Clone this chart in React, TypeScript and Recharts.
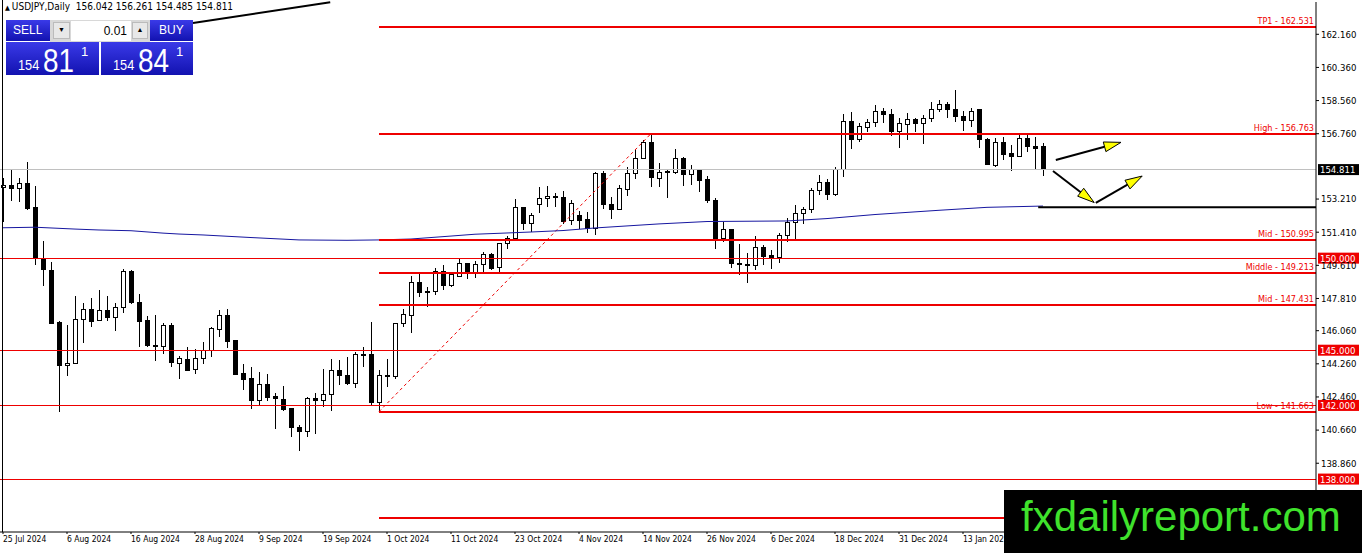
import { Bar, ComposedChart, Line, ReferenceLine, XAxis, YAxis } from "recharts"

const tickLabels = [
  "25 Jul 2024", "6 Aug 2024", "16 Aug 2024", "28 Aug 2024", "9 Sep 2024", "19 Sep 2024",
  "1 Oct 2024", "11 Oct 2024", "23 Oct 2024", "4 Nov 2024", "14 Nov 2024", "26 Nov 2024",
  "6 Dec 2024", "18 Dec 2024", "31 Dec 2024", "13 Jan 2025",
]
const BARS_PER_LABEL = 8

// daily USDJPY candles, one per trading day from 25 Jul 2024
const opens = [
  153.85, 153.97, 153.76, 154.03, 152.76, 149.99, 149.32, 146.52, 144.16, 144.29,
  146.68, 147.22, 146.6, 147.15, 146.79, 147.33, 149.3, 147.6, 146.59, 145.28,
  145.19, 146.32, 144.29, 144.51, 143.96, 144.56, 145.01, 146.15, 146.87, 145.52,
  143.75, 143.44, 142.26, 143.15, 142.47, 142.34, 141.81, 140.81, 140.57, 142.39,
  142.26, 142.61, 143.92, 143.6, 143.2, 144.79, 144.79, 142.17, 143.61, 143.56,
  146.46, 146.91, 148.69, 148.18, 148.18, 149.27, 148.54, 148.99, 149.72, 149.21,
  149.63, 150.21, 149.5, 150.81, 151.08, 152.76, 151.86, 152.93, 153.25, 153.36,
  153.31, 152.03, 152.34, 152.11, 151.6, 154.61, 152.94, 152.65, 153.74, 154.61,
  155.42, 156.27, 154.34, 154.7, 154.64, 155.42, 154.57, 154.74, 154.25, 153.11,
  151.08, 151.53, 149.72, 149.64, 149.59, 150.59, 150.12, 150.05, 151.22, 151.95,
  152.43, 152.65, 153.65, 154.1, 153.47, 154.83, 157.41, 156.46, 157.11, 157.38,
  157.99, 157.81, 156.87, 157.27, 157.54, 157.33, 157.6, 158.05, 158.37, 158.1,
  157.72, 157.47, 158.05, 156.47, 155.06, 156.29, 155.66, 155.51, 156.51, 156.09,
  156.042,
]
const highs = [
  154.34, 154.79, 154.34, 155.21, 153.92, 150.95, 149.77, 146.59, 146.37, 147.96,
  147.58, 147.82, 148.27, 147.96, 147.58, 149.41, 149.36, 148.05, 146.86, 146.91,
  146.49, 146.46, 144.7, 145.16, 145.05, 145.42, 146.28, 147.18, 147.24, 145.55,
  144.23, 144.1, 143.8, 143.69, 142.66, 143.07, 141.84, 140.94, 142.48, 142.69,
  143.96, 144.52, 144.47, 144.65, 144.92, 145.19, 146.55, 143.92, 144.5, 146.49,
  147.22, 149.03, 149.17, 148.42, 149.45, 149.63, 149.27, 149.99, 149.75, 149.85,
  150.35, 150.26, 150.84, 151.2, 153.2, 152.8, 152.44, 153.88, 153.92, 153.55,
  153.66, 153.16, 152.58, 152.52, 154.7, 154.75, 153.34, 153.97, 154.97, 155.91,
  156.42, 156.763, 155.15, 154.79, 155.91, 155.48, 155.06, 154.83, 154.47, 153.25,
  151.98, 151.57, 150.77, 150.26, 151.22, 150.72, 150.44, 151.35, 152.17, 152.89,
  152.8, 153.79, 154.52, 154.28, 154.94, 157.83, 157.96, 157.32, 157.54, 158.32,
  158.14, 158.1, 157.6, 157.87, 157.63, 157.78, 158.47, 158.59, 158.5, 159.13,
  157.99, 158.17, 158.1, 156.51, 156.51, 156.6, 156.15, 156.73, 156.73, 156.6,
  156.261,
]
const lows = [
  151.98, 153.12, 153.03, 152.62, 149.63, 148.5, 146.41, 141.66, 143.61, 144.29,
  145.41, 146.28, 146.59, 146.6, 146.06, 147.04, 147.51, 145.19, 145.19, 144.43,
  144.79, 144.07, 143.44, 143.85, 143.69, 144.23, 144.65, 145.73, 145.13, 143.66,
  142.83, 141.79, 141.97, 142.26, 140.7, 141.71, 140.27, 139.54, 140.3, 140.43,
  141.93, 141.71, 143.11, 143.11, 142.93, 144.11, 142.02, 141.663, 142.98, 143.42,
  146.28, 145.92, 147.87, 147.33, 147.99, 148.27, 148.42, 148.96, 148.85, 148.9,
  149.23, 149.36, 149.14, 150.48, 151.02, 151.53, 151.44, 152.44, 152.76, 152.8,
  151.86, 151.8, 151.57, 151.35, 151.26, 152.65, 152.11, 152.62, 153.38, 154.3,
  155.37, 153.88, 153.85, 153.29, 154.55, 153.92, 153.97, 153.61, 152.98, 150.48,
  150.89, 149.45, 149.09, 148.63, 149.36, 149.63, 149.39, 149.72, 150.89, 151.04,
  151.86, 152.47, 153.43, 153.16, 153.38, 154.43, 155.91, 156.33, 156.87, 157.11,
  157.33, 156.65, 156.0, 156.42, 156.87, 156.2, 157.41, 157.96, 157.6, 157.41,
  156.92, 157.14, 155.97, 155.06, 154.97, 155.33, 154.75, 155.51, 155.78, 154.84,
  154.485,
]
const closes = [
  153.97, 153.76, 154.03, 152.71, 150.02, 149.36, 146.46, 144.16, 144.29, 146.68,
  147.22, 146.55, 147.15, 146.79, 147.33, 149.3, 147.58, 146.55, 145.24, 145.19,
  146.32, 144.32, 144.55, 143.89, 144.56, 144.97, 146.19, 146.87, 145.46, 143.69,
  143.42, 142.26, 143.15, 142.44, 142.35, 141.79, 140.81, 140.57, 142.39, 142.26,
  142.61, 143.89, 143.6, 143.2, 144.74, 144.7, 142.17, 143.61, 143.56, 146.46,
  146.95, 148.69, 148.15, 148.12, 149.27, 148.54, 149.12, 149.72, 149.21, 149.63,
  150.21, 149.45, 150.81, 151.08, 152.76, 151.86, 152.34, 153.25, 153.36, 153.28,
  151.98, 152.98, 152.07, 151.6, 154.61, 152.89, 152.65, 153.76, 154.61, 155.42,
  156.27, 154.39, 154.66, 154.64, 155.42, 154.57, 154.79, 154.21, 153.11, 151.08,
  151.57, 149.72, 149.63, 149.59, 150.59, 150.08, 150.03, 151.22, 151.95, 152.43,
  152.65, 153.65, 154.1, 153.47, 154.83, 157.41, 156.46, 157.14, 157.38, 157.99,
  157.81, 156.87, 157.33, 157.51, 157.33, 157.6, 158.09, 158.37, 158.05, 157.68,
  157.47, 157.99, 156.46, 155.11, 156.29, 155.64, 155.51, 156.51, 156.05, 155.97,
  154.811,
]

// moving average at these bars
const maBars = [0, 4, 9, 12, 16, 20, 22, 25, 31, 37, 43, 47, 51, 56, 59, 62, 66, 70, 74, 78, 82, 88, 98, 103, 109, 117, 123, 130]
const maValues = [
  151.65, 151.68, 151.58, 151.53, 151.49, 151.36, 151.31, 151.26, 151.12, 150.99, 150.97, 150.99, 151.04, 151.2,
  151.3, 151.35, 151.42, 151.5, 151.64, 151.75, 151.86, 151.99, 152.02, 152.15, 152.37, 152.6, 152.76, 152.83,
]

const priceTicks = [162.16, 160.36, 158.56, 156.76, 153.21, 151.41, 149.61, 147.81, 146.06, 144.26, 142.46, 140.66, 138.86]

const levelNames = ["TP1", "High", "Mid", "Middle", "Mid", "Low", ""]
const levelValues = [162.531, 156.763, 150.995, 149.213, 147.431, 141.663, 135.89]
const roundLevels = [150, 145, 142, 138]
const supportLine = 152.77

const SWING_LOW_BAR = 47
const SWING_HIGH_BAR = 81
const ASK_SPREAD = 0.03

const X_MIN = -0.5
const X_MAX = 164.125
const Y_MIN = 135.125
const Y_MAX = 163.914

const FONT = "'DejaVu Sans Condensed', 'Liberation Sans Narrow', 'Liberation Sans', sans-serif"
const RED = "#ee0000"

const chartData = opens.map((open, i) => {
  const m = maBars.indexOf(i)
  return {
    i,
    open,
    high: highs[i],
    low: lows[i],
    close: closes[i],
    range: [lows[i], highs[i]],
    ma: m >= 0 ? maValues[m] : null,
  }
})

function Candle(props: any) {
  const { x, y, width, height, payload } = props
  if (!payload || height == null) return null
  const top = Math.min(y, y + height)
  const h = Math.abs(height)
  const k = h / (payload.high - payload.low)
  const yO = top + (payload.high - payload.open) * k
  const yC = top + (payload.high - payload.close) * k
  const cx = Math.round(x + width / 2) + 0.5
  const bodyTop = Math.min(yO, yC)
  const bodyH = Math.max(Math.abs(yC - yO), 1)
  const bull = payload.close >= payload.open
  return (
    <g shapeRendering="crispEdges">
      <line x1={cx} x2={cx} y1={top} y2={top + h} stroke="#000" />
      <rect x={cx - 2} y={bodyTop} width={4} height={bodyH} fill={bull ? "#fff" : "#000"} stroke="#000" />
    </g>
  )
}

const levelShape =
  (label: string, color: string, width: number, box?: { text: string; bg: string }) => (p: any) => {
    const xr = Math.max(p.x1, p.x2)
    return (
      <g>
        <line x1={p.x1} y1={p.y1} x2={p.x2} y2={p.y2} stroke={color} strokeWidth={width} shapeRendering="crispEdges" />
        {label ? (
          <text x={xr - 2} y={p.y1 - 3} textAnchor="end" fontSize={9} fontFamily={FONT} fill={color}>
            {label}
          </text>
        ) : null}
        {box ? (
          <g>
            <rect x={xr + 2} y={p.y1 - 5.5} width={41} height={11} fill={box.bg} />
            <text x={xr + 4} y={p.y1 + 3.5} fontSize={9.5} fontFamily={FONT} fill="#fff">
              {box.text}
            </text>
          </g>
        ) : null}
      </g>
    )
  }

function Arrow(p: any) {
  const { x1, y1, x2, y2 } = p
  const dx = x2 - x1
  const dy = y2 - y1
  const len = Math.hypot(dx, dy)
  const ux = dx / len
  const uy = dy / len
  const hl = 17
  const hw = 5
  const bx = x2 - ux * hl
  const by = y2 - uy * hl
  const pts = `${x2},${y2} ${bx - uy * hw},${by + ux * hw} ${bx + uy * hw},${by - ux * hw}`
  return (
    <g>
      <line x1={x1} y1={y1} x2={bx} y2={by} stroke="#000" strokeWidth={2} />
      <polygon points={pts} fill="#ffff00" stroke="#000" strokeWidth={1} />
    </g>
  )
}

function DateTick(p: any) {
  const { x, y, payload } = p
  return (
    <text x={x} y={y + 8} textAnchor="start" fontSize={8.5} fontFamily={FONT} fill="#000">
      {tickLabels[Math.round(payload.value / BARS_PER_LABEL)]}
    </text>
  )
}

// annotation arrows drawn on the chart (bar index, price)
const arrows = [
  [{ x: 131.6, y: 155.33 }, { x: 139.75, y: 156.29 }],
  [{ x: 131.25, y: 154.73 }, { x: 136.4, y: 153.02 }],
  [{ x: 136.6, y: 153.0 }, { x: 142.4, y: 154.46 }],
]

const blue = "linear-gradient(to bottom, #3a3ae8, #1212b0)"

function TradePanel() {
  const last = closes.length - 1
  const bid = closes[last].toFixed(3)
  const ask = (closes[last] + ASK_SPREAD).toFixed(3)
  const priceBox = (price: string, left: number, width: number) => (
    <div style={{ position: "absolute", left, top: 42, width, height: 33, background: blue, color: "#fff", fontFamily: "'Liberation Sans', sans-serif" }}>
      <span style={{ position: "absolute", left: 12, top: 15, fontSize: 15, lineHeight: 1, display: "inline-block", transform: "scaleX(0.85)", transformOrigin: "left" }}>
        {price.slice(0, 3)}
      </span>
      <span style={{ position: "absolute", left: 37, top: 1, fontSize: 34, lineHeight: 1, display: "inline-block", transform: "scaleX(0.82)", transformOrigin: "left" }}>
        {price.slice(4, 6)}
      </span>
      <span style={{ position: "absolute", left: 75, top: 3, fontSize: 13, lineHeight: 1 }}>{price.slice(6)}</span>
    </div>
  )
  return (
    <>
      <div style={{ position: "absolute", left: 6, top: 20, width: 44, height: 21, background: blue, color: "#fff", fontFamily: "'Liberation Sans', sans-serif", fontSize: 12, lineHeight: "21px", paddingLeft: 7, boxSizing: "border-box" }}>SELL</div>
      <div style={{ position: "absolute", left: 50, top: 20, width: 100, height: 22, background: "#d8d8d8" }}>
        <div style={{ position: "absolute", left: 3, top: 2, width: 17, height: 17, background: "#e8e8e8", border: "1px solid #bbb", boxSizing: "border-box", fontSize: 7, textAlign: "center", lineHeight: "15px" }}>▼</div>
        <div style={{ position: "absolute", left: 21, top: 1, width: 60, height: 20, background: "#fff", textAlign: "right", paddingRight: 4, boxSizing: "border-box", fontFamily: "'Liberation Sans', sans-serif", fontSize: 12, lineHeight: "20px" }}>0.01</div>
        <div style={{ position: "absolute", left: 82, top: 2, width: 16, height: 17, background: "#e8e8e8", border: "1px solid #bbb", boxSizing: "border-box", fontSize: 7, textAlign: "center", lineHeight: "15px" }}>▲</div>
      </div>
      <div style={{ position: "absolute", left: 150, top: 20, width: 43, height: 21, background: blue, color: "#fff", fontFamily: "'Liberation Sans', sans-serif", fontSize: 12, lineHeight: "21px", paddingLeft: 9, boxSizing: "border-box" }}>BUY</div>
      {priceBox(bid, 6, 93)}
      {priceBox(ask, 101, 92)}
    </>
  )
}

export default function App() {
  const last = closes.length - 1
  const header = `USDJPY,Daily  ${opens[last].toFixed(3)} ${highs[last].toFixed(3)} ${lows[last].toFixed(3)} ${closes[last].toFixed(3)}`
  return (
    <div style={{ position: "absolute", left: 0, top: 0, width: 1362, height: 553, background: "#fff", overflow: "hidden" }}>
      <div style={{ position: "absolute", left: -1, top: 0 }}>
        <ComposedChart width={1363} height={553} data={chartData} margin={{ top: 2, right: 0, bottom: 0, left: 0 }}>
          <XAxis
            dataKey="i"
            type="number"
            domain={[X_MIN, X_MAX]}
            allowDataOverflow
            ticks={tickLabels.map((_, k) => k * BARS_PER_LABEL)}
            interval={0}
            height={21}
            tickSize={2}
            tickMargin={0}
            axisLine={{ stroke: "#000" }}
            tickLine={{ stroke: "#000" }}
            tick={<DateTick />}
          />
          <YAxis
            orientation="right"
            type="number"
            domain={[Y_MIN, Y_MAX]}
            allowDataOverflow
            ticks={priceTicks}
            interval={0}
            width={46}
            tickSize={3}
            tickMargin={2}
            axisLine={{ stroke: "#000" }}
            tickLine={{ stroke: "#000" }}
            tick={{ fontSize: 9.5, fill: "#000", fontFamily: FONT }}
            tickFormatter={(v: number) => v.toFixed(3)}
          />
          <ReferenceLine
            segment={[{ x: 23.75, y: 162.77 }, { x: 40.9, y: 163.9 }]}
            stroke="#000"
            strokeWidth={2}
          />
          <ReferenceLine
            segment={[
              { x: SWING_LOW_BAR, y: lows[SWING_LOW_BAR] },
              { x: SWING_HIGH_BAR, y: highs[SWING_HIGH_BAR] },
            ]}
            stroke={RED}
            strokeWidth={1}
            strokeDasharray="3 3"
          />
          <Line dataKey="ma" stroke="#1616a0" strokeWidth={1} dot={false} connectNulls isAnimationActive={false} />
          <ReferenceLine
            y={closes[last]}
            shape={levelShape("", "#c0c0c0", 1, { text: closes[last].toFixed(3), bg: "#000" })}
          />
          {roundLevels.map((v) => (
            <ReferenceLine key={`r${v}`} y={v} shape={levelShape("", RED, 1, { text: v.toFixed(3), bg: RED })} />
          ))}
          {levelValues.map((v, k) => (
            <ReferenceLine
              key={`l${k}`}
              segment={[{ x: SWING_LOW_BAR, y: v }, { x: X_MAX, y: v }]}
              shape={levelShape(levelNames[k] ? `${levelNames[k]} - ${v.toFixed(3)}` : "", RED, 2)}
            />
          ))}
          <ReferenceLine
            segment={[{ x: 129.4, y: supportLine }, { x: X_MAX, y: supportLine }]}
            stroke="#000"
            strokeWidth={2}
          />
          <Bar dataKey="range" barSize={5} shape={<Candle />} isAnimationActive={false} />
          {arrows.map((seg, k) => (
            <ReferenceLine key={`a${k}`} segment={seg} shape={<Arrow />} />
          ))}
        </ComposedChart>
      </div>
      <div style={{ position: "absolute", left: 2, top: 0, width: 1, height: 532, background: "#000" }} />
      <div style={{ position: "absolute", left: 5, top: 1, fontFamily: FONT, fontSize: 10, color: "#000", whiteSpace: "pre" }}>
        <span style={{ fontSize: 7 }}>▲ </span>
        {header}
      </div>
      <TradePanel />
      <div style={{ position: "absolute", left: 1004, top: 490, width: 358, height: 63, background: "#000" }}>
        <span style={{ position: "absolute", left: 17, top: 6, fontFamily: "'Liberation Sans', Arial, sans-serif", fontSize: 42, lineHeight: 1, color: "#3fe22c", whiteSpace: "nowrap" }}>
          fxdailyreport.com
        </span>
      </div>
    </div>
  )
}
